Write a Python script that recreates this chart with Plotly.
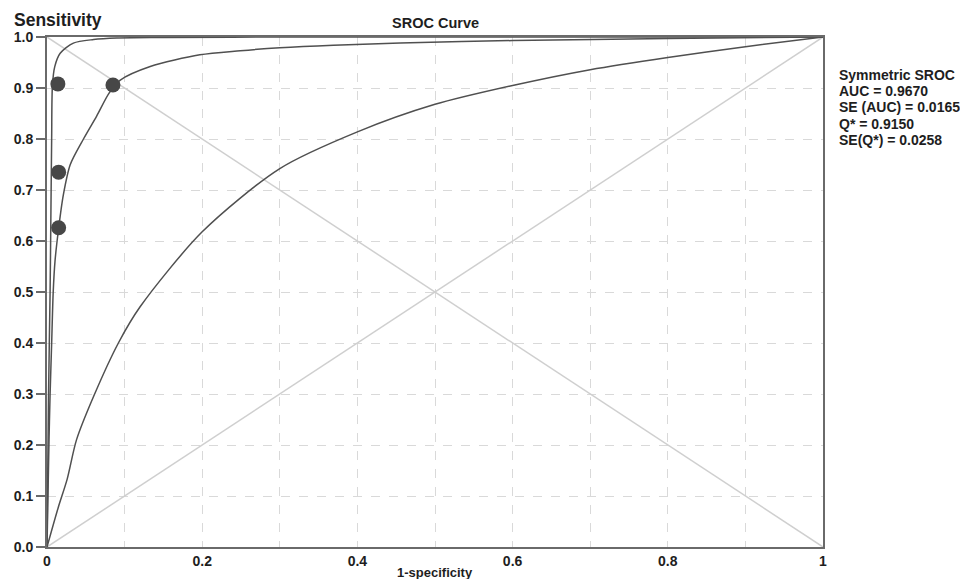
import plotly.graph_objects as go

# curve readings (1-specificity, sensitivity)
curve_a_x = [0, 0.002, 0.004, 0.005, 0.006, 0.007, 0.01, 0.017, 0.034, 0.06, 0.09, 0.15, 0.3, 0.6, 1.0]
curve_a_y = [0, 0.3, 0.5, 0.65, 0.8, 0.905, 0.942, 0.968, 0.988, 0.995, 0.998, 0.999, 1.0, 1.0, 1.0]

curve_b_x = [0, 0.0026, 0.004, 0.006, 0.008, 0.0103, 0.015, 0.021, 0.03, 0.047, 0.064, 0.08, 0.094,
             0.133, 0.197, 0.249, 0.3, 0.369, 0.455, 0.6, 0.8, 1.0]
curve_b_y = [0, 0.21, 0.3, 0.4, 0.5, 0.56, 0.625, 0.69, 0.75, 0.8, 0.845, 0.89, 0.915,
             0.942, 0.965, 0.973, 0.979, 0.984, 0.988, 0.993, 0.997, 1.0]

curve_c_x = [0, 0.0146, 0.026, 0.038, 0.06, 0.092, 0.12, 0.2, 0.3, 0.4, 0.5, 0.6,
             0.7, 0.8, 0.9, 1.0]
curve_c_y = [0, 0.078, 0.133, 0.21, 0.295, 0.4, 0.471, 0.618, 0.742, 0.814, 0.868, 0.905,
             0.936, 0.96, 0.981, 1.0]

study_x = [0.014, 0.085, 0.015, 0.015]
study_y = [0.908, 0.906, 0.735, 0.626]

x_ticks = [0, 0.1, 0.2, 0.3, 0.4, 0.5, 0.6, 0.7, 0.8, 0.9, 1.0]
x_labels = ["0", "", "0.2", "", "0.4", "", "0.6", "", "0.8", "", "1"]
y_ticks = [0, 0.1, 0.2, 0.3, 0.4, 0.5, 0.6, 0.7, 0.8, 0.9, 1.0]
y_labels = ["0.0", "0.1", "0.2", "0.3", "0.4", "0.5", "0.6", "0.7", "0.8", "0.9", "1.0"]

stats = ["Symmetric SROC", "AUC = 0.9670", "SE (AUC) = 0.0165", "Q* = 0.9150", "SE(Q*) = 0.0258"]

font = "Liberation Sans, Arial, sans-serif"
diag = "#cfcfcf"
curve = "#505050"
txt = "#1e1e1e"

fig = go.Figure()

# reference diagonals
fig.add_trace(go.Scatter(x=[0, 1], y=[0, 1], mode="lines",
                         line=dict(color=diag, width=1.5), hoverinfo="skip"))
fig.add_trace(go.Scatter(x=[0, 1], y=[1, 0], mode="lines",
                         line=dict(color=diag, width=1.5), hoverinfo="skip"))

for cx, cy in [(curve_a_x, curve_a_y), (curve_b_x, curve_b_y), (curve_c_x, curve_c_y)]:
    fig.add_trace(go.Scatter(x=cx, y=cy, mode="lines",
                             line=dict(color=curve, width=1.5, shape="spline", smoothing=0.8)))

fig.add_trace(go.Scatter(x=study_x, y=study_y, mode="markers",
                         marker=dict(color="#474747", size=15, symbol="circle",
                                     line=dict(width=0))))

axis_common = dict(
    range=[0, 1], showgrid=True, gridcolor="#d9d9d9", griddash="dash", gridwidth=1,
    showline=True, linecolor="#6a6a6a", linewidth=2, mirror=True, zeroline=False,
    automargin=False,
    tickfont=dict(family=font, size=14, color=txt),
)

annotations = [
    dict(text="<b>SROC Curve</b>", xref="paper", yref="paper", x=0.5, y=1, yanchor="middle",
         yshift=14, showarrow=False, font=dict(family=font, size=14.5, color=txt)),
    dict(text="<b>Sensitivity</b>", xref="paper", yref="paper", x=0, y=1, xanchor="left",
         yanchor="middle", xshift=-35, yshift=17, showarrow=False,
         font=dict(family=font, size=17.5, color=txt)),
    dict(text="<b>1-specificity</b>", xref="paper", yref="paper", x=0.5, y=0, yanchor="middle",
         yshift=-25, showarrow=False, font=dict(family=font, size=13, color=txt)),
]
for i, s in enumerate(stats):
    annotations.append(dict(text="<b>%s</b>" % s, xref="paper", yref="paper", x=1, y=1,
                            xanchor="left", yanchor="middle", xshift=14, yshift=-38 - 16.2 * i,
                            showarrow=False, font=dict(family=font, size=14, color=txt)))

# page body adds an 8px margin, so the figure is 8px smaller each way
fig.update_layout(
    width=960, height=571,
    margin=dict(l=39, r=145, t=29, b=32),
    plot_bgcolor="white", paper_bgcolor="white",
    showlegend=False,
    xaxis=dict(axis_common, tickvals=x_ticks, ticktext=["<b>%s</b>" % t for t in x_labels],
               ticks="", ticklabelstandoff=0),
    yaxis=dict(axis_common, tickvals=y_ticks, ticktext=["<b>%s</b>" % t for t in y_labels],
               ticks="outside", ticklen=9, tickcolor="#6a6a6a", tickwidth=1.5),
    annotations=annotations,
)

fig.write_html("out.html")
